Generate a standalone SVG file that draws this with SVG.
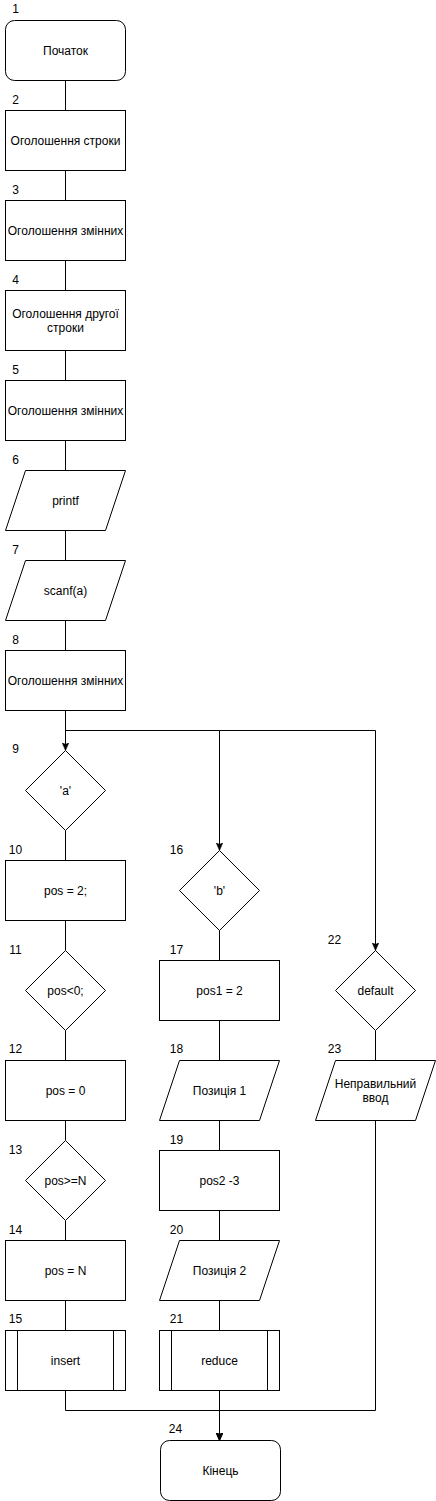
<svg xmlns="http://www.w3.org/2000/svg" width="436" height="1501" viewBox="0 0 436 1501">
<style>
.s{fill:#fff;stroke:#000;stroke-width:1}
.c{fill:none;stroke:#000;stroke-width:1}
.t{font-family:"Liberation Sans",Arial,sans-serif;font-size:12px;fill:#000;text-anchor:middle}
</style>
<defs>
<marker id="arr" markerUnits="userSpaceOnUse" viewBox="0 0 8 7" markerWidth="8" markerHeight="7" refX="8" refY="3.5" orient="auto">
<path d="M0 0 L8 3.5 L0 7 L2 3.5 Z" fill="#000" stroke="#000" stroke-width="0.5"/>
</marker>
</defs>
<rect width="436" height="1501" fill="#fff"/>
<g transform="translate(0.5,0.5)">
<g id="connectors">
<path class="c" d="M65 80V110M65 170V200M65 260V290M65 350V380M65 440V470M65 530V560M65 620V650"/>
<path class="c" d="M65 710V750" marker-end="url(#arr)"/>
<path class="c" d="M65 730H219V850" marker-end="url(#arr)"/>
<path class="c" d="M219 730H375V950" marker-end="url(#arr)"/>
<path class="c" d="M65 830V860M65 920V950M65 1030V1060M65 1120V1140M65 1220V1240M65 1300V1330"/>
<path class="c" d="M219 930V960M219 1020V1060M219 1120V1150M219 1210V1240M219 1300V1330"/>
<path class="c" d="M375 1030V1060"/>
<path class="c" d="M65 1390V1410H219V1440" marker-end="url(#arr)"/>
<path class="c" d="M375 1120V1410H219V1440" marker-end="url(#arr)"/>
<path class="c" d="M219 1390V1440" marker-end="url(#arr)"/>
</g>
<g id="n1"><rect class="s" x="5" y="20" width="120" height="60" rx="9"/><text class="t" x="65" y="54">Початок</text><text class="t" x="15" y="12">1</text></g>
<g id="n2"><rect class="s" x="5" y="110" width="120" height="60"/><text class="t" x="65" y="144">Оголошення строки</text><text class="t" x="15" y="103">2</text></g>
<g id="n3"><rect class="s" x="5" y="200" width="120" height="60"/><text class="t" x="65" y="234">Оголошення змінних</text><text class="t" x="15" y="193">3</text></g>
<g id="n4"><rect class="s" x="5" y="290" width="120" height="60"/><text class="t" x="65" y="317">Оголошення другої</text><text class="t" x="65" y="331">строки</text><text class="t" x="15" y="283">4</text></g>
<g id="n5"><rect class="s" x="5" y="380" width="120" height="60"/><text class="t" x="65" y="414">Оголошення змінних</text><text class="t" x="15" y="373">5</text></g>
<g id="n6"><path class="s" d="M25 470H125L105 530H5Z"/><text class="t" x="65" y="504">printf</text><text class="t" x="15" y="463">6</text></g>
<g id="n7"><path class="s" d="M25 560H125L105 620H5Z"/><text class="t" x="65" y="594">scanf(a)</text><text class="t" x="15" y="553">7</text></g>
<g id="n8"><rect class="s" x="5" y="650" width="120" height="60"/><text class="t" x="65" y="684">Оголошення змінних</text><text class="t" x="15" y="643">8</text></g>
<g id="n9"><path class="s" d="M65 750L105 790L65 830L25 790Z"/><text class="t" x="65" y="794">'a'</text><text class="t" x="15" y="752">9</text></g>
<g id="n10"><rect class="s" x="5" y="860" width="120" height="60"/><text class="t" x="65" y="894">pos = 2;</text><text class="t" x="15" y="853">10</text></g>
<g id="n11"><path class="s" d="M65 950L105 990L65 1030L25 990Z"/><text class="t" x="65" y="994">pos&lt;0;</text><text class="t" x="15" y="953">11</text></g>
<g id="n12"><rect class="s" x="5" y="1060" width="120" height="60"/><text class="t" x="65" y="1094">pos = 0</text><text class="t" x="15" y="1052">12</text></g>
<g id="n13"><path class="s" d="M65 1140L105 1180L65 1220L25 1180Z"/><text class="t" x="65" y="1184">pos&gt;=N</text><text class="t" x="15" y="1153">13</text></g>
<g id="n14"><rect class="s" x="5" y="1240" width="120" height="60"/><text class="t" x="65" y="1274">pos = N</text><text class="t" x="15" y="1233">14</text></g>
<g id="n15"><rect class="s" x="5" y="1330" width="120" height="60"/><path class="c" d="M17 1330V1390M113 1330V1390"/><text class="t" x="65" y="1364">insert</text><text class="t" x="15" y="1322">15</text></g>
<g id="n16"><path class="s" d="M219 850L259 890L219 930L179 890Z"/><text class="t" x="219" y="894">'b'</text><text class="t" x="176" y="853">16</text></g>
<g id="n17"><rect class="s" x="159" y="960" width="120" height="60"/><text class="t" x="219" y="994">pos1 = 2</text><text class="t" x="176" y="953">17</text></g>
<g id="n18"><path class="s" d="M179 1060H279L259 1120H159Z"/><text class="t" x="219" y="1094">Позиція 1</text><text class="t" x="176" y="1052">18</text></g>
<g id="n19"><rect class="s" x="159" y="1150" width="120" height="60"/><text class="t" x="219" y="1184">pos2 -3</text><text class="t" x="176" y="1143">19</text></g>
<g id="n20"><path class="s" d="M179 1240H279L259 1300H159Z"/><text class="t" x="219" y="1274">Позиція 2</text><text class="t" x="176" y="1233">20</text></g>
<g id="n21"><rect class="s" x="159" y="1330" width="120" height="60"/><path class="c" d="M171 1330V1390M267 1330V1390"/><text class="t" x="219" y="1364">reduce</text><text class="t" x="176" y="1322">21</text></g>
<g id="n22"><path class="s" d="M375 950L415 990L375 1030L335 990Z"/><text class="t" x="375" y="994">default</text><text class="t" x="334" y="943">22</text></g>
<g id="n23"><path class="s" d="M335 1060H435L415 1120H315Z"/><text class="t" x="375" y="1087">Неправильний</text><text class="t" x="375" y="1101">ввод</text><text class="t" x="334" y="1052">23</text></g>
<g id="n24"><rect class="s" x="160" y="1440" width="120" height="60" rx="9"/><text class="t" x="220" y="1474">Кінець</text><text class="t" x="175" y="1432">24</text></g>
</g>
</svg>
